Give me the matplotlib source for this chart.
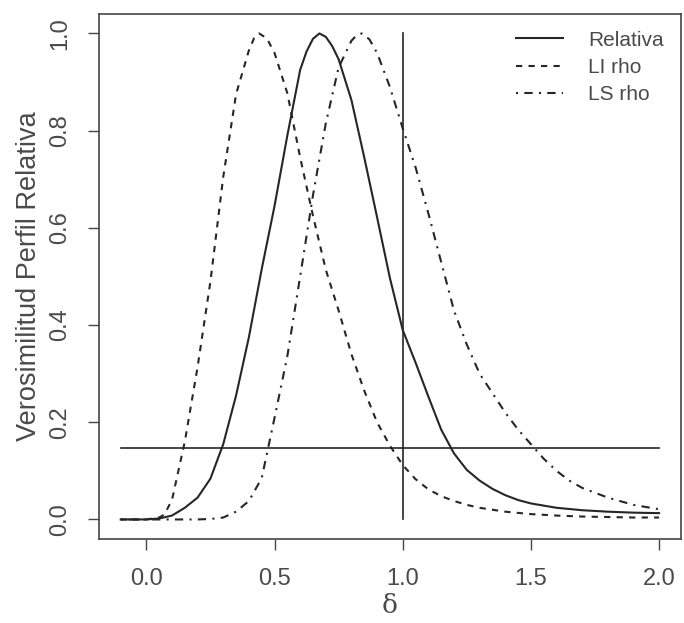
import matplotlib as mpl
mpl.use('agg')
import matplotlib.pyplot as plt

# relative profile likelihood
rel_delta = [-0.10, -0.05, 0.00, 0.05, 0.10, 0.15, 0.20, 0.25, 0.30, 0.35,
             0.40, 0.45, 0.50, 0.55, 0.60, 0.625, 0.65, 0.675, 0.70, 0.725,
             0.75, 0.80, 0.85, 0.90, 0.95, 1.00, 1.05, 1.10, 1.15, 1.20,
             1.25, 1.30, 1.35, 1.40, 1.45, 1.50, 1.60, 1.70, 1.80, 1.90, 2.00]
rel_vals = [0.000, 0.000, 0.000, 0.002, 0.008, 0.024, 0.045, 0.084, 0.155, 0.255,
            0.375, 0.515, 0.645, 0.790, 0.925, 0.963, 0.989, 1.000, 0.993, 0.974,
            0.947, 0.863, 0.745, 0.622, 0.497, 0.390, 0.323, 0.253, 0.185, 0.136,
            0.102, 0.080, 0.063, 0.050, 0.040, 0.033, 0.024, 0.019, 0.016, 0.014, 0.013]

li_delta = [-0.10, -0.05, 0.00, 0.05, 0.07, 0.10, 0.15, 0.20, 0.25, 0.30,
            0.35, 0.40, 0.42, 0.44, 0.47, 0.50, 0.55, 0.60, 0.65, 0.70,
            0.75, 0.80, 0.85, 0.90, 0.95, 1.00, 1.05, 1.10, 1.15, 1.20,
            1.25, 1.30, 1.40, 1.50, 1.60, 1.70, 1.80, 1.90, 2.00]
li_vals = [0.000, 0.000, 0.000, 0.004, 0.010, 0.040, 0.160, 0.314, 0.490, 0.705,
           0.875, 0.965, 0.990, 1.000, 0.990, 0.960, 0.877, 0.745, 0.625, 0.514,
           0.430, 0.340, 0.265, 0.200, 0.152, 0.112, 0.083, 0.062, 0.048, 0.038,
           0.030, 0.024, 0.016, 0.011, 0.008, 0.006, 0.005, 0.004, 0.004]

ls_delta = [-0.10, 0.00, 0.10, 0.20, 0.25, 0.30, 0.35, 0.40, 0.45, 0.50,
            0.55, 0.60, 0.65, 0.70, 0.75, 0.80, 0.82, 0.84, 0.87, 0.90,
            0.95, 1.00, 1.05, 1.10, 1.15, 1.20, 1.25, 1.30, 1.35, 1.40,
            1.45, 1.50, 1.55, 1.60, 1.65, 1.70, 1.80, 1.90, 2.00]
ls_vals = [0.000, 0.000, 0.000, 0.000, 0.001, 0.004, 0.016, 0.038, 0.085, 0.209,
           0.336, 0.500, 0.667, 0.815, 0.930, 0.985, 0.996, 1.000, 0.988, 0.960,
           0.890, 0.805, 0.725, 0.630, 0.530, 0.430, 0.360, 0.300, 0.260, 0.220,
           0.185, 0.155, 0.125, 0.100, 0.080, 0.065, 0.045, 0.030, 0.021]

series_labels = ['Relativa', 'LI rho', 'LS rho']

# reference lines: 95% cut-off level and delta = 1
cut_level = 0.1466
cut_range = [-0.10, 2.00]
ref_delta = 1.0
ref_range = [0.0, 1.0]

x_ticks = [0.0, 0.5, 1.0, 1.5, 2.0]
y_ticks = [0.0, 0.2, 0.4, 0.6, 0.8, 1.0]

ink = '#262626'
txt = '#4a4a4a'

plt.rcParams['font.family'] = ['Liberation Sans', 'DejaVu Sans']

fig = plt.figure(figsize=(6.84, 6.23), dpi=100)
ax = fig.add_axes([0.145, 0.135, 0.85, 0.8425])

ax.plot(rel_delta, rel_vals, color=ink, lw=1.5, ls='-', label=series_labels[0])
ax.plot(li_delta, li_vals, color=ink, lw=1.5, ls=(0, (3, 3)), label=series_labels[1])
ax.plot(ls_delta, ls_vals, color=ink, lw=1.5, ls=(0, (1, 3, 4, 3)), label=series_labels[2])

ax.plot(cut_range, [cut_level, cut_level], color=ink, lw=1.2)
ax.plot([ref_delta, ref_delta], ref_range, color=ink, lw=1.2)

ax.set_xlim(-0.184, 2.084)
ax.set_ylim(-0.04, 1.04)
ax.set_xticks(x_ticks)
ax.set_yticks(y_ticks)
ax.set_xticklabels(['%.1f' % t for t in x_ticks])
ax.set_yticklabels(['%.1f' % t for t in y_ticks], rotation=90, va='center')

ax.tick_params(direction='out', length=8, width=1, colors='#444444',
               labelcolor=txt, labelsize=17)
ax.tick_params(axis='x', pad=13)
ax.tick_params(axis='y', pad=12)
for s in ax.spines.values():
    s.set_color('#444444')
    s.set_linewidth(1.2)

ax.set_xlabel('δ', fontsize=19, color=txt, labelpad=2,
              family=['DejaVu Serif'])
ax.set_ylabel('Verosimilitud Perfil Relativa', fontsize=19.5, color=txt, labelpad=5)

leg = ax.legend(loc='upper right', frameon=False, fontsize=15, handlelength=2.25,
                handletextpad=1.2, labelspacing=0.4, borderaxespad=0.4)
for t in leg.get_texts():
    t.set_color(txt)

fig.savefig('out.png', dpi=100)
